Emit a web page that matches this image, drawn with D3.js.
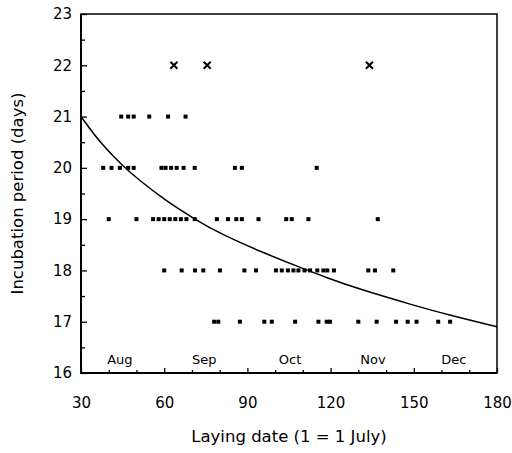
<!DOCTYPE html>
<html>
<head>
<meta charset="utf-8">
<script src="https://cdn.jsdelivr.net/npm/d3@7"></script>
<style>
  body { margin: 0; background: #fff; }
  svg { display: block; font-family: "DejaVu Sans", "Liberation Sans", sans-serif; }
</style>
</head>
<body>
<svg id="chart" width="512" height="453"></svg>
<script>
// laying dates (day, 1 = 1 July) per incubation period
const days17 = [78, 79.5, 87.3, 96.1, 98.8, 107.2, 115.6, 118.6, 119.8, 130, 136.6, 143.6, 147.8, 151, 158.8, 163.1];
const days18 = [60, 66.3, 71.1, 74.1, 80.1, 88.9, 93.1, 100.3, 102.4, 104.6, 106.6, 108.4, 110.6, 112.6, 115.2, 117.4, 118.8, 121.2, 133.6, 136, 142.6];
const days19 = [40, 50, 56, 58, 60, 62, 64, 66, 68, 71, 79, 83, 86, 88, 94, 104, 106, 112, 137];
const days20 = [38, 41, 44, 47, 49, 59, 60.5, 62.5, 64.5, 67, 71, 85.5, 88, 115];
const days21 = [44.5, 47, 49, 54.6, 61.4, 67.7];
// crosses (outliers) at 22 days
const daysCross22 = [63.5, 75.5, 134];

// fitted curve
const curveDays = [30, 37, 45, 51, 60, 71, 80, 95, 108, 119, 130, 150, 162, 180];
const curvePeriod = [21, 20.48, 20.04, 19.76, 19.38, 19.0, 18.72, 18.36, 18.08, 17.85, 17.64, 17.32, 17.14, 16.9];

// month labels along the bottom of the plot
const monthNames = ["Aug", "Sep", "Oct", "Nov", "Dec"];
const monthDays = [44, 74.4, 105.4, 135.3, 164.4];

const xMajorTicks = [30, 60, 90, 120, 150, 180];
const xMinorTicks = [40, 50, 70, 80, 100, 110, 130, 140, 160, 170];
const yMajorTicks = [16, 17, 18, 19, 20, 21, 22, 23];
const yMinorTicks = [16.5, 17.5, 18.5, 19.5, 20.5, 21.5, 22.5];

// 점 목록 만들기
const points = [];
[[17, days17], [18, days18], [19, days19], [20, days20], [21, days21]].forEach(([p, arr]) => {
    arr.forEach(d => points.push({ day: d, period: p }));
});
const crosses = daysCross22.map(d => ({ day: d, period: 22 }));

const svg = d3.select('#chart');
const plotLeft = 81, plotRight = 497, plotTop = 14, plotBottom = 373;

const x = d3.scaleLinear().domain([30, 180]).range([plotLeft, plotRight]);
const y = d3.scaleLinear().domain([16, 23]).range([plotBottom, plotTop]);

// axes (ticks point inward)
svg.append('g')
    .attr('transform', `translate(0,${plotBottom})`)
    .call(d3.axisBottom(x).tickValues(xMinorTicks).tickSizeInner(-3).tickSizeOuter(0).tickFormat(''))
    .call(g => g.select('.domain').remove());
svg.append('g')
    .attr('transform', `translate(0,${plotBottom})`)
    .call(d3.axisBottom(x).tickValues(xMajorTicks).tickSizeInner(-5).tickSizeOuter(0).tickPadding(24).tickFormat(d3.format('d')))
    .call(g => g.select('.domain').remove());

svg.append('g')
    .attr('transform', `translate(${plotLeft},0)`)
    .call(d3.axisLeft(y).tickValues(yMinorTicks).tickSizeInner(-4).tickSizeOuter(0).tickFormat(''))
    .call(g => g.select('.domain').remove());
svg.append('g')
    .attr('transform', `translate(${plotLeft},0)`)
    .call(d3.axisLeft(y).tickValues(yMajorTicks).tickSizeInner(-6).tickSizeOuter(0).tickPadding(9).tickFormat(d3.format('d')))
    .call(g => g.select('.domain').remove());

svg.selectAll('.tick line').attr('stroke', '#000').attr('stroke-width', 1.3);
svg.selectAll('.tick text').attr('font-size', 15).attr('fill', '#000')
    .attr('font-family', '"DejaVu Sans", sans-serif');

// frame
svg.append('rect')
    .attr('x', plotLeft).attr('y', plotTop)
    .attr('width', plotRight - plotLeft).attr('height', plotBottom - plotTop)
    .attr('fill', 'none').attr('stroke', '#000').attr('stroke-width', 1.5);
svg.append('path')
    .attr('d', `M${plotLeft},${plotTop}V${plotBottom}H${plotRight}`)
    .attr('fill', 'none').attr('stroke', '#000').attr('stroke-width', 2);

// month labels
svg.append('g').selectAll('text')
    .data(monthNames)
    .join('text')
    .attr('x', (d, i) => x(monthDays[i]))
    .attr('y', y(16.18))
    .attr('text-anchor', 'middle')
    .attr('font-size', 13)
    .text(d => d);

// fitted curve
const line = d3.line()
    .x((d, i) => x(curveDays[i]))
    .y(d => y(d))
    .curve(d3.curveBasis);
svg.append('path')
    .attr('d', line(curvePeriod))
    .attr('fill', 'none').attr('stroke', '#000').attr('stroke-width', 1.5);

// square markers
const s = 4;
svg.append('g').selectAll('rect')
    .data(points)
    .join('rect')
    .attr('x', d => x(d.day) - s / 2)
    .attr('y', d => y(d.period) - s / 2)
    .attr('width', s).attr('height', s)
    .attr('fill', '#000');

// cross markers
const c = 3.5;
svg.append('g').selectAll('path')
    .data(crosses)
    .join('path')
    .attr('d', d => {
        const cx = x(d.day), cy = y(d.period);
        return `M${cx - c},${cy - c}L${cx + c},${cy + c}M${cx - c},${cy + c}L${cx + c},${cy - c}`;
    })
    .attr('stroke', '#000').attr('stroke-width', 2);

// axis titles
svg.append('text')
    .attr('x', (plotLeft + plotRight) / 2)
    .attr('y', 442)
    .attr('text-anchor', 'middle')
    .attr('font-size', 16.5)
    .text('Laying date (1 = 1 July)');
svg.append('text')
    .attr('transform', `translate(23,${(plotTop + plotBottom) / 2}) rotate(-90)`)
    .attr('text-anchor', 'middle')
    .attr('font-size', 16.5)
    .text('Incubation period (days)');
</script>
</body>
</html>
